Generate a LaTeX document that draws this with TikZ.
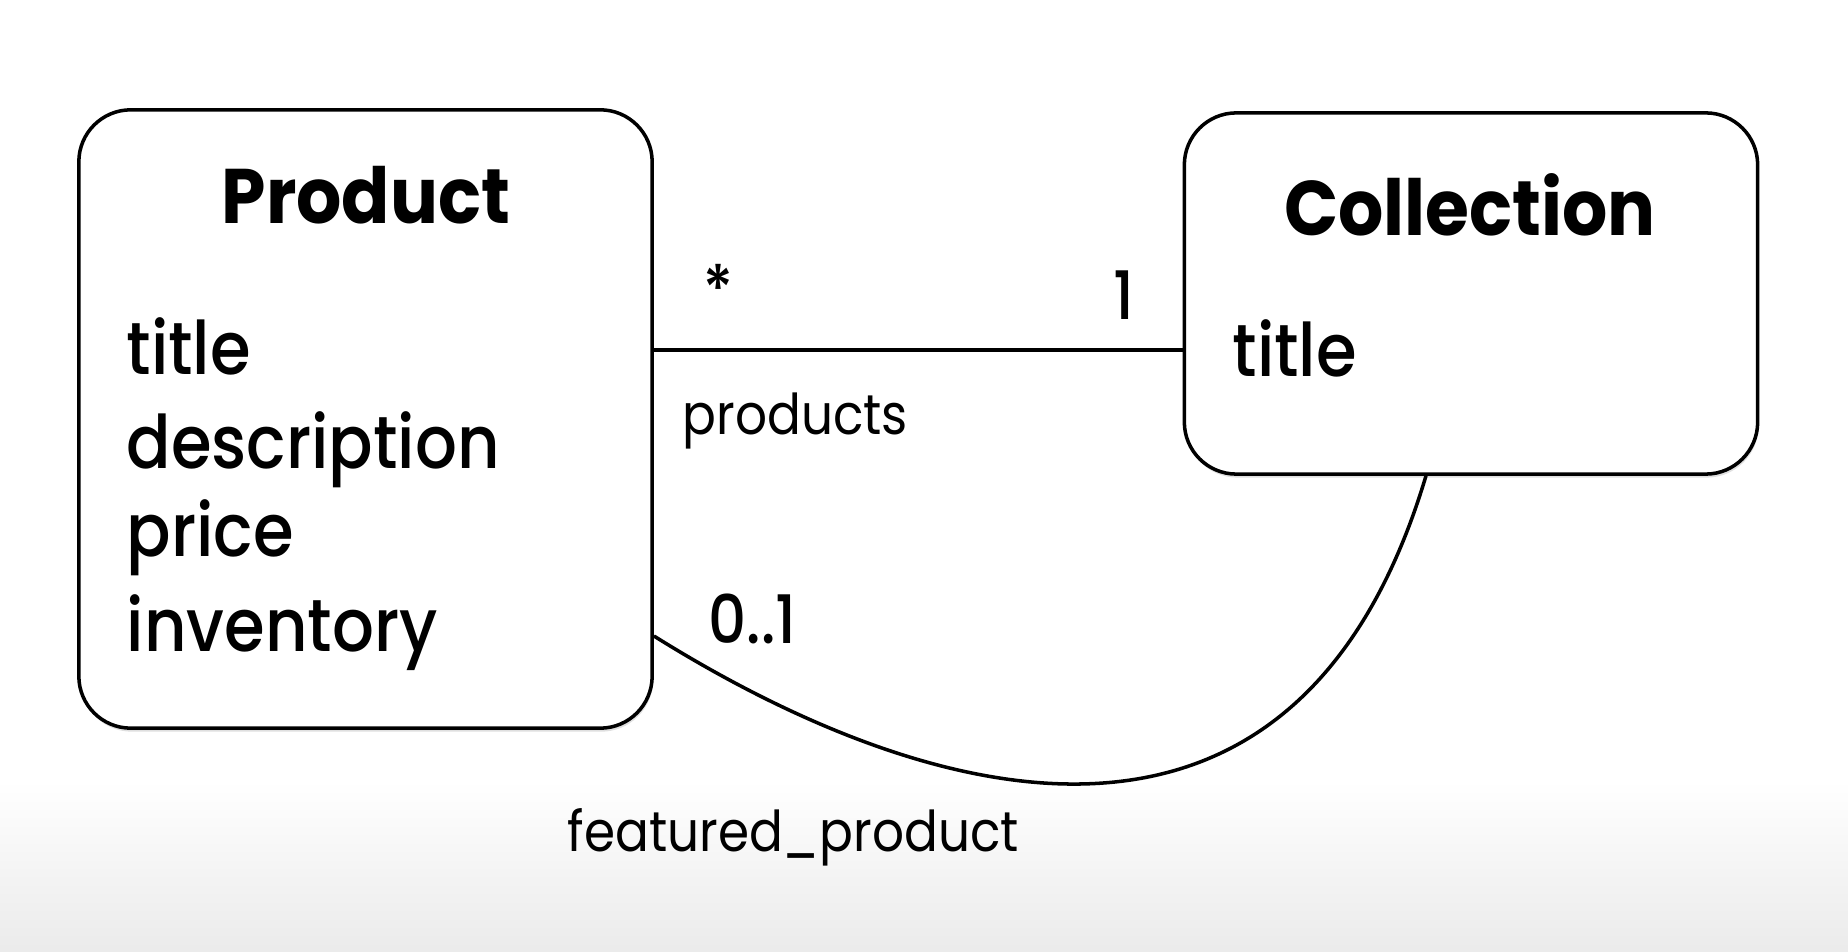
\documentclass[tikz,border=0pt]{standalone}
\usepackage{fontspec}
\setmainfont{Poppins}[FakeStretch=0.89]
\newfontfamily\medfont{Poppins Medium}[FakeStretch=0.89]
\newfontfamily\semifont{Poppins}[FakeStretch=0.92]
\usepackage{tikz}
\usetikzlibrary{
	arrows.meta,
	positioning,
	calc,
	shadows
}
\tikzset{
  % box
	cstbox/.style      ={fill=white,draw=black,line width=1pt,rounded corners=0.52cm,
		minimum width=5.73cm,drop shadow={opacity=0.25,shadow xshift=0.3pt,shadow yshift=-1pt}},
  % text
	csttitle/.style    ={font=\fontsize{22}{26}\semifont\bfseries,inner sep=0pt},
	cstattr/.style     ={font=\fontsize{21}{26}\medfont,anchor=base west,inner sep=0pt},
	cstlabel/.style    ={font=\fontsize{16}{20}\selectfont,anchor=west,inner sep=0pt},
	cstmult/.style     ={font=\fontsize{19}{22}\medfont,inner sep=0pt},
  % line
	cstline/.style     ={line width=1pt}
}

\begin{document}
\begin{tikzpicture}[x=0.01cm,y=-0.01cm]
	\useasboundingbox (0,0) rectangle (1848,952);
	\shade[top color=white,bottom color=black!8] (0,780) rectangle (1848,952);
	% classes
	\node[cstbox,minimum height=6.18cm] (product) at (365.5,419) {};
	\node[cstbox,minimum height=3.61cm] (collection) at (1471,293.5) {};
	\node[csttitle,anchor=base] (ptitle) at (366,224) {Product};
	\node[csttitle,anchor=base] (ctitle) at (1470,236) {Collection};
	% attributes
	\node[cstattr] (pattr1) at (126,375) {title};
	\node[cstattr] (pattr2) at (126,469) {description};
	\node[cstattr] (pattr3) at (126,557) {price};
	\node[cstattr] (pattr4) at (126,652) {inventory};
	\node[cstattr] (cattr1) at (1232,377) {title};
	% associations
	\coordinate (pa) at (product.east |- 0,350);
	\coordinate (ca) at (collection.west |- 0,350);
	\draw[cstline] (pa) -- (ca);
	\coordinate (pb) at (product.east |- 0,636);
	\coordinate (cb) at ([xshift=-0.45cm]collection.south);
	\draw[cstline] (pb) .. controls (900,790) and (1290,930) .. (cb);
	% multiplicities
	\node[cstmult] (mstar) at (718,289) {*};
	\node[cstmult] (mone) at (1124,295) {1};
	\node[cstmult,anchor=west] (mzero) at (708,619) {0..1};
	% roles
	\node[cstlabel] (rproducts) at (682,421) {products};
	\node[cstlabel] (rfeatured) at (567,837) {featured\_product};
\end{tikzpicture}
\end{document}
